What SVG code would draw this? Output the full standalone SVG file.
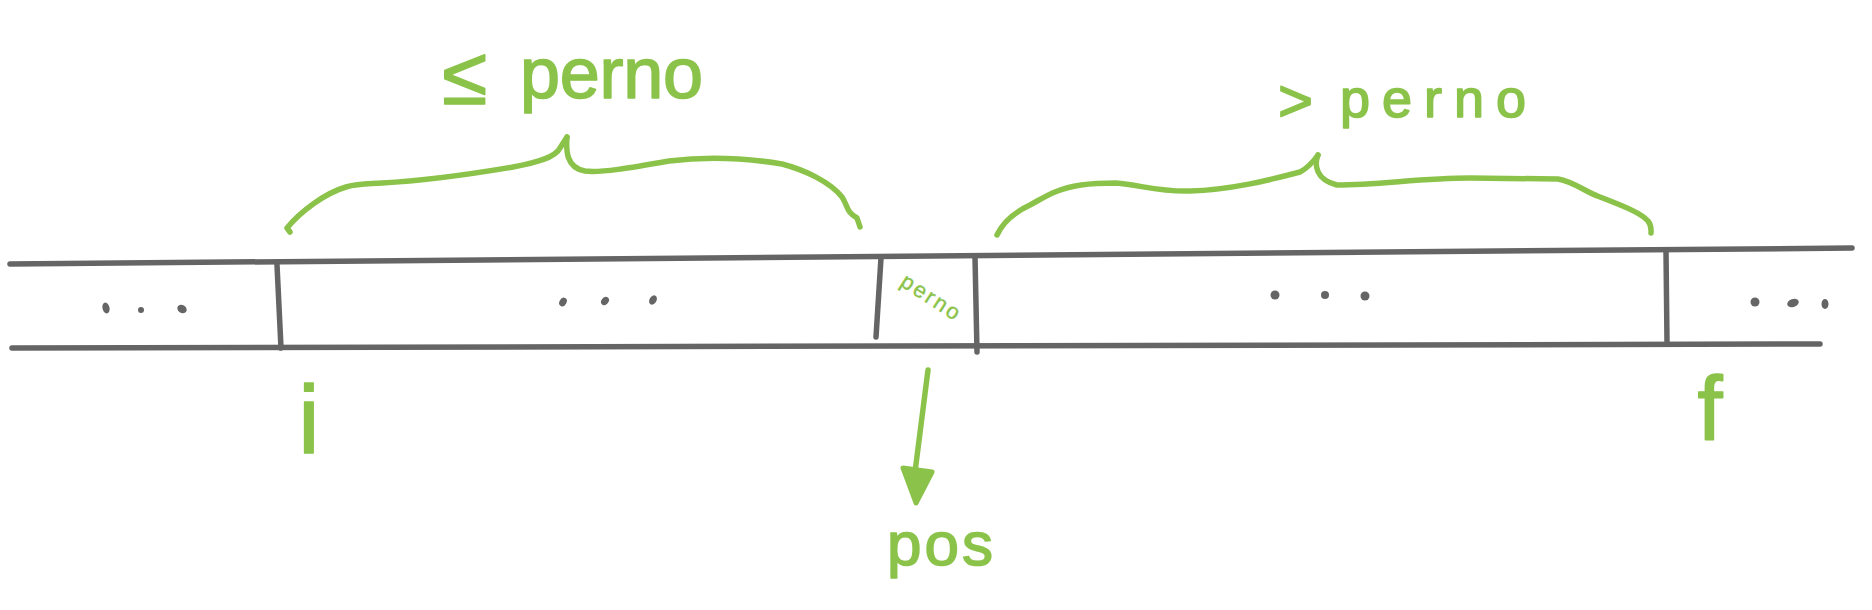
<svg xmlns="http://www.w3.org/2000/svg" width="1872" height="610" viewBox="0 0 1872 610">
<style>
.gl{fill:none;stroke:#656565;stroke-width:5.5;stroke-linecap:round;stroke-linejoin:round}
.dot{fill:#656565}
.br{fill:none;stroke:#8bc34a;stroke-width:5.5;stroke-linecap:round;stroke-linejoin:round}
.t{font-family:"Liberation Sans","DejaVu Sans",sans-serif;fill:#8bc34a;stroke:#8bc34a;stroke-linejoin:round}
.big{stroke-width:1.6}
</style>
<rect width="1872" height="610" fill="#ffffff"/>
<g id="array">
  <path class="gl" d="M10,264 L1852,248"/>
  <path class="gl" d="M12,348 L1820,344"/>
  <path class="gl" d="M277,265 L281,348"/>
  <path class="gl" d="M881,258 L876,337"/>
  <path class="gl" d="M975,257 L977,352"/>
  <path class="gl" d="M1666,251 L1667,342"/>
</g>
<g id="dots-left">
  <ellipse class="dot" cx="106" cy="308" rx="3.5" ry="5.5" transform="rotate(-15 106 308)"/>
  <circle class="dot" cx="141" cy="310" r="3"/>
  <ellipse class="dot" cx="182" cy="309" rx="5" ry="4" transform="rotate(35 182 309)"/>
</g>
<g id="dots-middle">
  <ellipse class="dot" cx="563" cy="302" rx="3.5" ry="4.5" transform="rotate(30 563 302)"/>
  <ellipse class="dot" cx="605" cy="301" rx="3.5" ry="4.5" transform="rotate(40 605 301)"/>
  <ellipse class="dot" cx="653" cy="300" rx="3.5" ry="5" transform="rotate(30 653 300)"/>
</g>
<g id="dots-right-middle">
  <circle class="dot" cx="1275" cy="295" r="4.5"/>
  <circle class="dot" cx="1325" cy="295" r="4"/>
  <circle class="dot" cx="1365" cy="296" r="4.5"/>
</g>
<g id="dots-right">
  <circle class="dot" cx="1755" cy="302" r="4.5"/>
  <ellipse class="dot" cx="1793" cy="303" rx="6" ry="4" transform="rotate(-20 1793 303)"/>
  <ellipse class="dot" cx="1825" cy="304" rx="3.5" ry="5"/>
</g>
<g id="pivot-cell-label">
  <text class="t" x="0" y="0" font-size="22" stroke-width="0.4" textLength="66" lengthAdjust="spacing" transform="translate(899,285) rotate(33)">perno</text>
</g>
<g id="brace-left">
  <path class="br" d="M290,232 L287,228 C300,212 325,193 346,187 C360,183 370,184 382,183 C420,181 460,176 513,167 C535,163 555,158 560,148 L567,137"/>
  <path class="br" d="M567,137 C566,150 566,168 585,171 C600,173 630,168 669,161 C700,157 740,157 782,164 C805,170 830,182 842,197 C848,206 846,212 857,218 L860,227"/>
</g>
<g id="label-le">
  <text class="t big" x="442" y="104" font-size="82">≤</text>
  <text class="t big" x="520" y="98" font-size="72" textLength="183" lengthAdjust="spacing">perno</text>
</g>
<g id="brace-right">
  <path class="br" d="M997,235 C1003,222 1015,212 1030,205 C1045,197 1055,189 1081,185 C1095,183 1105,183 1116,183 C1140,185 1160,192 1190,191 C1230,190 1270,180 1300,172 C1308,168 1313,162 1318,155"/>
  <path class="br" d="M1318,155 C1314,165 1316,180 1337,185 C1380,185 1420,178 1470,178 L1558,179 C1575,182 1585,192 1600,197 C1620,205 1640,212 1648,221 C1652,226 1651,230 1651,233"/>
</g>
<g id="label-gt">
  <text class="t big" x="1278" y="121" font-size="60">&gt;</text>
  <text class="t big" x="1340" y="117" font-size="54" textLength="186" lengthAdjust="spacing">perno</text>
</g>
<g id="label-i">
  <text class="t big" x="309" y="453" font-size="96" text-anchor="middle">i</text>
</g>
<g id="label-f">
  <text class="t big" x="1710" y="440" font-size="90" text-anchor="middle">f</text>
</g>
<g id="connectors">
  <path class="br" stroke-width="6" d="M928,370 L915,472"/>
  <polygon points="903,468 932,472 916,503" fill="#8bc34a" stroke="#8bc34a" stroke-width="5" stroke-linejoin="round"/>
</g>
<g id="label-pos">
  <text class="t big" x="887" y="565" font-size="62" textLength="106" lengthAdjust="spacing">pos</text>
</g>
</svg>
